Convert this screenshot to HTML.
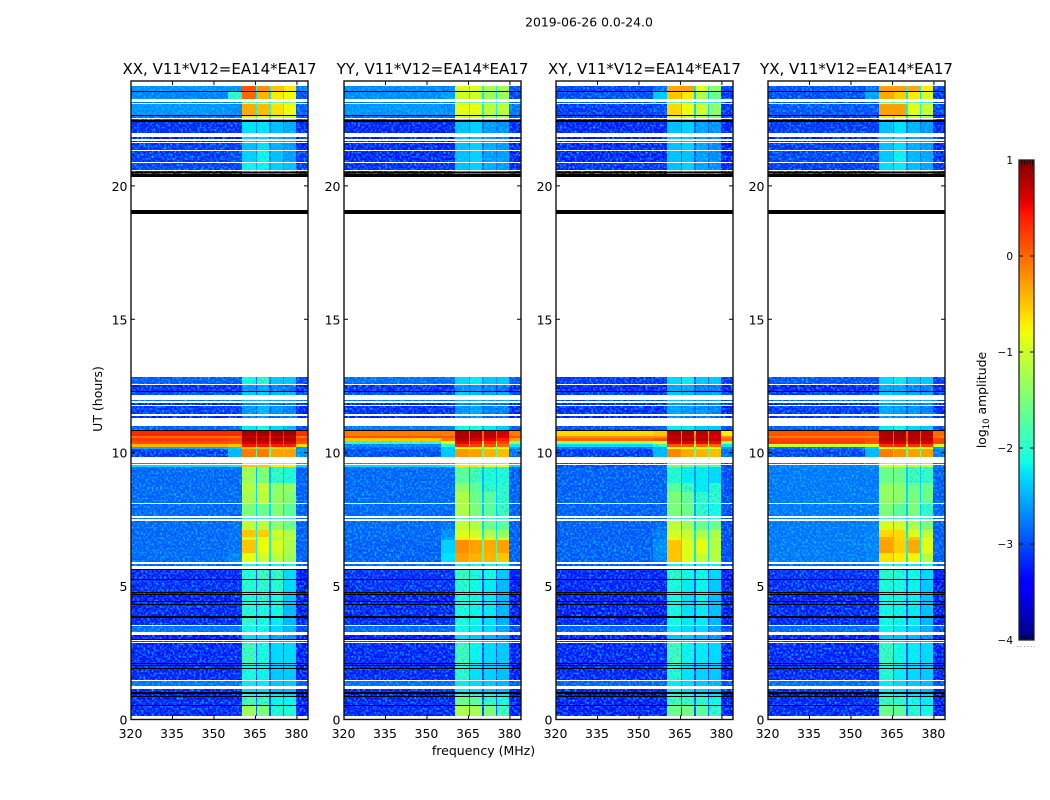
<!DOCTYPE html>
<html>
<head>
<meta charset="utf-8">
<title>2019-06-26 0.0-24.0</title>
<style>
html,body{margin:0;padding:0;background:#fff;width:1050px;height:800px;overflow:hidden}
svg{display:block}
text{font-family:"DejaVu Sans","Liberation Sans",sans-serif;fill:#000}
</style>
</head>
<body>
<svg id="chart" xmlns="http://www.w3.org/2000/svg" width="1050" height="800" viewBox="0 0 1050 800">
  <defs>
    <!-- decorative grain only: cell colours still come from the value arrays below -->
    <filter id="speckle" filterUnits="userSpaceOnUse" x="0" y="0" width="1050" height="800" color-interpolation-filters="sRGB">
      <feTurbulence type="fractalNoise" baseFrequency="0.48" numOctaves="1" seed="7" result="grain"/>
      <feColorMatrix in="grain" type="matrix" values="0 0 0 0 0  0 0 0 0 0.85  0 0 0 0 1  2.6 0 0 0 -1.15" result="tinted"/>
      <feComposite in="tinted" in2="SourceAlpha" operator="in" result="clipped"/>
      <feMerge>
        <feMergeNode in="SourceGraphic"/>
        <feMergeNode in="clipped"/>
      </feMerge>
    </filter>
  </defs>
  <rect x="0" y="0" width="1050" height="800" fill="#fff"/>
  <text x="589" y="26.5" font-size="12.4" text-anchor="middle">2019-06-26 0.0-24.0</text>
  <text x="483.5" y="755" font-size="12.5" text-anchor="middle">frequency (MHz)</text>
  <text x="0" y="0" font-size="12.5" text-anchor="middle" transform="translate(102,399) rotate(-90)">UT (hours)</text>
  <text x="0" y="0" font-size="12.4" text-anchor="middle" transform="translate(986,400) rotate(-90)">log<tspan font-size="8.5" dy="3">10</tspan><tspan dy="-3"> amplitude</tspan></text>
  <g id="panels"></g>
  <g id="colorbar"></g>
</svg>
<script>
// ---- chart data -------------------------------------------------------
const panelTitles = ['XX, V11*V12=EA14*EA17','YY, V11*V12=EA14*EA17','XY, V11*V12=EA14*EA17','YX, V11*V12=EA14*EA17'];
const xTicks = [320,335,350,365,380];
const yTicks = [0,5,10,15,20];
const colorTicks = [1,0,-1,-2,-3,-4];
const colorMinorTicks = [-3.98,-3.95,-3.92,-3.89,-3.86,0.86,0.89,0.92,0.95,0.98];
// frequency edges in MHz of the heatmap columns
const freqEdges = [320,355,360.3,365.2,365.7,370,370.5,374.8,375.4,379.6,384];
// which value of a row each column reads: left, ramp, s1, gap, s2, gap, s3, gap, s4, right
const columnSource = [0,1,2,6,3,6,4,6,5,7];
// UT (hours) start/end of each observed band, top to bottom
const bandTop = [23.76,23.54,23.16,23.05,22.64,22.51,22.38,21.83,21.70,21.59,21.31,20.86,20.57,12.84,12.54,12.26,11.96,11.88,11.75,11.39,11.00,10.81,10.63,10.55,10.44,10.33,10.21,10.14,9.61,9.54,9.45,8.86,8.53,8.08,7.55,7.44,7.10,6.84,6.73,6.24,5.81,5.62,5.23,4.78,4.37,3.82,3.50,3.17,2.96,2.87,2.12,1.44,1.14,1.03,0.88,0.51];
const bandBottom = [23.54,23.25,23.11,22.66,22.55,22.46,21.98,21.74,21.63,21.35,20.91,20.60,20.45,12.58,12.31,12.18,11.92,11.79,11.44,11.30,10.85,10.63,10.55,10.44,10.33,10.21,10.14,9.84,9.58,9.48,8.86,8.53,8.11,7.63,7.50,7.10,6.84,6.73,6.24,5.90,5.77,5.25,4.78,4.37,3.88,3.54,3.28,3.02,2.90,2.12,1.48,1.26,1.03,0.88,0.54,0.13];
// flagged (black) time ranges, UT hours [top, bottom]
const flaggedRanges = [[23.56,23.53],[22.66,22.63],[22.46,22.38],[20.51,20.48],[20.45,20.35],[19.09,18.96],[12.31,12.26],[10.85,10.81],[5.64,5.61],[5.26,5.23],[4.79,4.76],[4.71,4.68],[4.45,4.42],[4.34,4.31],[3.89,3.86],[3.83,3.80],[3.03,3.00],[2.10,2.07],[2.04,2.01],[1.93,1.90],[1.04,1.01],[0.98,0.95],[0.89,0.86],[0.54,0.51]];
// log10 amplitude per band: left, ramp, s1, s2, s3, s4, gap, right
const xxValues = [
[-2.7,-2.7,0.1,-0.2,-0.5,-0.7,-2.0,-2.85],[-2.8,-1.9,0.0,-0.4,-0.7,-0.8,-2.2,-3.05],[-2.9,-2.9,-1.6,-1.6,-1.6,-1.6,-2.3,-3.05],[-2.7,-2.75,-0.35,-0.45,-0.65,-0.8,-1.9,-3.0],[-2.95,-2.95,-0.7,-0.8,-1.0,-1.0,-2.0,-3.05],[-3.1,-3.1,-1.8,-1.8,-2.0,-2.0,-2.6,-3.1],
[-3.25,-3.25,-2.25,-2.25,-2.45,-2.55,-2.8,-3.3],[-3.35,-3.35,-2.35,-2.35,-2.55,-2.65,-2.9,-3.35],[-3.35,-3.35,-2.35,-2.35,-2.55,-2.65,-2.9,-3.35],[-3.2,-3.2,-2.45,-2.25,-2.55,-2.65,-2.8,-3.3],[-3.2,-3.1,-2.35,-2.15,-2.45,-2.65,-2.8,-3.2],[-3.15,-3.15,-2.15,-2.15,-2.35,-2.45,-2.7,-3.2],[-3.4,-3.4,-2.8,-2.7,-2.9,-2.9,-3.1,-3.4],
[-3.0,-3.0,-2.1,-1.9,-2.4,-2.4,-2.8,-3.1],[-3.25,-3.25,-2.7,-2.6,-2.8,-2.9,-3.1,-3.3],[-3.1,-3.1,-2.4,-2.4,-2.5,-2.5,-2.9,-3.1],[-2.9,-2.9,-2.5,-2.5,-2.6,-2.6,-2.8,-2.9],[-3.3,-3.3,-2.8,-2.7,-2.9,-2.9,-3.1,-3.3],[-3.2,-3.2,-2.7,-2.5,-2.7,-2.8,-3.0,-3.3],[-3.3,-3.3,-2.8,-2.7,-2.9,-2.9,-3.1,-3.3],
[-3.0,-2.9,-2.2,-2.0,-2.3,-2.5,-2.7,-3.1],[0.35,0.35,0.85,0.85,0.85,0.85,0.4,0.3],[-0.05,-0.1,0.7,0.7,0.7,0.7,0.2,-0.1],[0.25,0.2,0.8,0.8,0.8,0.8,0.3,0.2],[0.15,0.1,0.65,0.65,0.65,0.65,0.1,0.1],[-0.4,-0.5,0.45,0.45,0.4,0.4,-0.3,-0.6],[-2.6,-2.4,-0.5,-0.5,-0.6,-0.6,-1.8,-2.7],[-3.2,-2.5,-0.1,-0.1,-0.3,-0.3,-1.7,-2.7],
[-2.7,-2.6,-1.2,-1.2,-1.4,-1.4,-2.0,-2.7],[-2.3,-2.2,-0.5,-0.5,-0.7,-0.7,-1.6,-2.3],
[-2.95,-2.95,-1.3,-1.5,-1.9,-2.0,-2.5,-3.0],[-2.95,-2.95,-1.15,-1.05,-1.4,-1.35,-2.3,-3.0],[-2.95,-2.95,-1.25,-1.1,-1.35,-1.45,-2.3,-3.0],[-2.95,-2.95,-1.5,-1.6,-1.45,-1.7,-2.3,-3.0],[-2.9,-2.9,-1.8,-1.8,-1.8,-2.0,-2.4,-2.95],
[-2.95,-2.9,-1.1,-1.1,-1.4,-1.6,-2.2,-3.0],[-2.95,-2.9,-0.5,-0.55,-1.0,-1.2,-2.1,-3.0],[-2.95,-2.9,-1.0,-0.9,-1.2,-1.1,-2.1,-3.0],[-2.95,-2.9,-0.5,-0.8,-0.95,-1.2,-2.1,-3.0],[-2.95,-2.8,-0.85,-1.0,-1.1,-1.3,-2.2,-3.0],[-2.95,-2.95,-2.0,-2.0,-2.1,-2.1,-2.7,-3.0],
[-3.3,-3.3,-1.95,-1.8,-1.9,-2.3,-3.1,-3.35],[-3.25,-3.25,-1.95,-1.9,-1.95,-2.3,-3.0,-3.35],[-3.35,-3.35,-2.0,-1.95,-2.05,-2.4,-3.1,-3.35],[-3.3,-3.3,-1.95,-2.05,-2.1,-2.5,-3.1,-3.35],[-3.3,-3.3,-1.9,-2.05,-2.2,-2.5,-3.1,-3.35],[-2.9,-2.9,-2.1,-2.1,-2.3,-2.5,-2.8,-3.1],[-3.35,-3.35,-2.3,-2.3,-2.6,-2.7,-3.1,-3.35],[-3.2,-3.2,-2.3,-2.3,-2.5,-2.6,-3.0,-3.2],
[-3.3,-3.3,-1.8,-2.05,-2.3,-2.3,-3.1,-3.35],[-3.3,-3.3,-2.05,-2.15,-2.4,-2.4,-3.15,-3.35],[-2.85,-2.85,-2.2,-2.2,-2.4,-2.4,-2.8,-3.0],[-3.3,-3.3,-2.3,-2.3,-2.5,-2.5,-3.1,-3.35],[-3.45,-3.45,-1.95,-2.05,-2.2,-2.3,-3.25,-3.5],[-3.3,-3.3,-1.75,-1.85,-2.15,-2.15,-3.05,-3.35],[-3.3,-3.3,-1.3,-1.5,-2.0,-2.0,-3.05,-3.35]];
const yyValues = [
[-2.75,-2.8,-0.9,-0.9,-1.2,-1.25,-2.0,-3.05],[-2.75,-2.65,-1.0,-1.0,-1.3,-1.3,-2.2,-3.15],[-2.9,-2.9,-1.6,-1.6,-1.7,-1.7,-2.4,-3.05],[-2.7,-2.75,-0.85,-0.85,-1.1,-1.1,-2.1,-2.85],[-2.95,-2.95,-1.0,-1.0,-1.2,-1.2,-2.2,-3.05],[-3.1,-3.1,-1.9,-1.9,-2.0,-2.0,-2.6,-3.1],
[-3.3,-3.3,-2.45,-2.35,-2.65,-2.7,-2.9,-3.3],[-3.35,-3.35,-2.45,-2.45,-2.65,-2.75,-3.0,-3.35],[-3.35,-3.35,-2.45,-2.45,-2.65,-2.75,-3.0,-3.35],[-3.3,-3.3,-2.45,-2.35,-2.55,-2.65,-2.9,-3.3],[-3.3,-3.3,-2.45,-2.35,-2.65,-2.65,-2.9,-3.3],[-3.25,-3.25,-2.45,-2.35,-2.55,-2.65,-2.9,-3.3],[-3.4,-3.4,-2.8,-2.7,-2.9,-2.9,-3.1,-3.4],
[-2.9,-2.9,-2.3,-2.2,-2.4,-2.4,-2.7,-3.0],[-3.25,-3.25,-2.7,-2.7,-2.8,-2.9,-3.1,-3.3],[-3.1,-3.1,-2.4,-2.5,-2.6,-2.6,-2.9,-3.1],[-2.85,-2.85,-2.5,-2.5,-2.6,-2.6,-2.8,-2.9],[-3.3,-3.3,-2.8,-2.7,-2.9,-2.9,-3.1,-3.3],[-3.25,-3.25,-2.7,-2.6,-2.8,-2.8,-3.0,-3.3],[-3.3,-3.3,-2.8,-2.7,-2.9,-2.9,-3.1,-3.3],
[-2.85,-2.8,-2.1,-2.0,-2.2,-2.4,-2.6,-3.0],[-0.1,-0.1,0.8,0.8,0.75,0.65,0.0,-0.1],[0.1,0.1,0.85,0.8,0.75,0.6,0.1,0.1],[-0.5,-0.1,0.75,0.65,0.55,0.4,0.0,-0.3],[-1.8,-0.8,0.55,0.45,0.35,0.2,-0.8,-1.4],[-2.8,-1.9,0.3,0.2,0.1,0.0,-1.3,-2.2],[-3.0,-2.4,-0.8,-0.8,-0.9,-0.9,-1.8,-2.7],[-3.1,-2.4,-0.25,-0.3,-0.4,-0.45,-1.7,-2.9],
[-2.7,-2.6,-1.4,-1.4,-1.5,-1.5,-2.1,-2.7],[-2.3,-2.2,-0.7,-0.7,-0.8,-0.8,-1.7,-2.3],
[-2.95,-2.95,-1.7,-1.8,-2.0,-2.0,-2.5,-3.0],[-2.95,-2.95,-1.4,-1.7,-1.9,-1.9,-2.5,-3.0],[-2.95,-2.95,-1.2,-1.6,-1.7,-1.9,-2.4,-3.0],[-2.95,-2.95,-1.2,-1.5,-1.7,-1.8,-2.4,-3.0],[-2.9,-2.9,-1.7,-1.8,-1.9,-2.0,-2.5,-2.95],
[-2.95,-2.9,-1.1,-1.2,-1.6,-1.7,-2.3,-3.0],[-2.95,-2.75,-0.9,-1.0,-1.2,-1.35,-2.2,-3.0],[-2.95,-2.65,-0.7,-0.8,-0.9,-1.0,-2.0,-3.0],[-3.0,-2.35,-0.2,-0.3,-0.35,-0.3,-1.7,-3.0],[-3.0,-2.25,-0.3,-0.4,-0.4,-0.5,-1.7,-3.0],[-2.95,-2.95,-2.0,-2.0,-2.1,-2.1,-2.7,-3.0],
[-3.25,-3.25,-1.85,-2.05,-2.1,-2.4,-3.1,-3.35],[-3.25,-3.25,-1.95,-2.1,-2.2,-2.5,-3.1,-3.35],[-3.35,-3.35,-2.0,-2.1,-2.2,-2.5,-3.1,-3.35],[-3.3,-3.3,-2.05,-2.15,-2.2,-2.5,-3.1,-3.35],[-3.3,-3.3,-2.0,-2.15,-2.25,-2.55,-3.1,-3.35],[-2.95,-2.95,-2.1,-2.2,-2.3,-2.6,-2.9,-3.1],[-3.35,-3.35,-2.3,-2.4,-2.5,-2.7,-3.1,-3.35],[-3.2,-3.2,-2.3,-2.3,-2.5,-2.6,-3.0,-3.2],
[-3.3,-3.3,-1.8,-2.15,-2.3,-2.4,-3.1,-3.35],[-3.3,-3.3,-1.95,-2.25,-2.35,-2.45,-3.15,-3.35],[-2.9,-2.9,-2.2,-2.3,-2.4,-2.5,-2.8,-3.0],[-3.3,-3.3,-2.2,-2.3,-2.4,-2.5,-3.1,-3.35],[-3.55,-3.55,-1.75,-1.95,-2.05,-2.2,-3.25,-3.55],[-3.3,-3.3,-1.6,-1.7,-1.9,-2.05,-3.05,-3.35],[-3.3,-3.3,-1.2,-1.25,-1.5,-1.75,-3.05,-3.35]];
const xyValues = [
[-3.15,-2.9,-0.35,-0.3,-0.85,-1.4,-2.2,-3.15],[-3.1,-2.4,-0.5,-0.7,-1.2,-1.6,-2.4,-3.25],[-3.1,-3.1,-1.7,-1.7,-1.9,-2.0,-2.5,-3.25],[-3.2,-3.1,-0.6,-0.8,-1.0,-1.4,-2.3,-3.25],[-3.2,-3.2,-0.9,-1.0,-1.2,-1.5,-2.4,-3.25],[-3.25,-3.25,-1.9,-1.9,-2.1,-2.2,-2.7,-3.25],
[-3.3,-3.3,-2.45,-2.35,-2.6,-2.7,-3.0,-3.3],[-3.35,-3.35,-2.45,-2.45,-2.65,-2.75,-3.0,-3.35],[-3.35,-3.35,-2.45,-2.45,-2.65,-2.75,-3.0,-3.35],[-3.3,-3.3,-2.45,-2.35,-2.6,-2.75,-3.0,-3.35],[-3.3,-3.3,-2.45,-2.45,-2.65,-2.75,-3.0,-3.35],[-3.25,-3.25,-2.45,-2.35,-2.6,-2.75,-3.0,-3.3],[-3.4,-3.4,-2.8,-2.7,-2.9,-2.9,-3.1,-3.4],
[-3.2,-3.2,-2.3,-2.2,-2.4,-2.4,-2.9,-3.2],[-3.3,-3.3,-2.6,-2.6,-2.8,-2.8,-3.1,-3.3],[-3.2,-3.2,-2.4,-2.5,-2.6,-2.6,-2.9,-3.2],[-3.1,-3.1,-2.4,-2.5,-2.6,-2.6,-2.9,-3.1],[-3.3,-3.3,-2.7,-2.7,-2.8,-2.8,-3.1,-3.3],[-3.25,-3.25,-2.6,-2.7,-2.7,-2.8,-3.0,-3.3],[-3.3,-3.3,-2.7,-2.8,-2.8,-2.9,-3.1,-3.3],
[-3.1,-3.0,-2.2,-2.2,-2.4,-2.4,-2.7,-3.1],[-0.6,-0.5,0.8,0.8,0.75,0.7,-0.3,-0.7],[-0.2,-0.2,0.7,0.7,0.7,0.6,-0.1,-0.2],[0.0,0.1,0.75,0.8,0.75,0.7,0.0,0.0],[-1.3,-0.8,0.6,0.6,0.55,0.5,-0.7,-1.2],[-2.3,-1.8,0.1,0.1,0.0,0.0,-1.0,-2.2],[-3.0,-2.5,-0.8,-0.8,-0.9,-0.9,-1.8,-2.7],[-3.2,-2.5,-0.15,-0.35,-0.4,-0.45,-1.6,-2.9],
[-3.1,-3.0,-1.5,-1.5,-1.6,-1.6,-2.2,-3.1],[-3.1,-3.0,-1.5,-1.5,-1.7,-1.7,-2.3,-3.1],
[-3.0,-3.0,-2.0,-2.2,-2.2,-2.3,-2.7,-3.1],[-3.0,-3.0,-1.7,-1.8,-2.2,-2.0,-2.7,-3.1],[-3.0,-3.0,-1.5,-1.65,-1.9,-1.9,-2.6,-3.1],[-3.0,-3.0,-1.5,-1.6,-1.9,-2.1,-2.6,-3.1],[-3.0,-3.0,-1.8,-1.9,-2.0,-2.1,-2.7,-3.1],
[-3.0,-2.95,-1.1,-1.3,-1.6,-1.6,-2.4,-3.1],[-3.0,-2.85,-1.0,-1.05,-1.2,-1.2,-2.2,-3.1],[-3.0,-2.85,-0.75,-1.0,-1.0,-1.1,-2.2,-3.1],[-3.0,-2.75,-0.5,-0.9,-0.85,-1.15,-2.2,-3.1],[-3.0,-2.8,-0.5,-0.9,-1.05,-1.15,-2.2,-3.1],[-3.05,-3.05,-2.0,-2.0,-2.1,-2.1,-2.8,-3.1],
[-3.3,-3.3,-1.95,-2.1,-2.1,-2.3,-3.15,-3.35],[-3.3,-3.3,-2.05,-2.2,-2.15,-2.4,-3.15,-3.35],[-3.35,-3.35,-2.1,-2.25,-2.15,-2.45,-3.15,-3.35],[-3.35,-3.35,-2.1,-2.25,-2.2,-2.45,-3.15,-3.4],[-3.3,-3.3,-2.1,-2.2,-2.2,-2.5,-3.15,-3.35],[-3.0,-3.0,-2.2,-2.3,-2.3,-2.6,-2.9,-3.1],[-3.35,-3.35,-2.4,-2.4,-2.5,-2.7,-3.1,-3.35],[-3.25,-3.25,-2.4,-2.4,-2.5,-2.6,-3.0,-3.25],
[-3.3,-3.3,-1.8,-2.15,-2.2,-2.3,-3.05,-3.35],[-3.3,-3.3,-2.0,-2.25,-2.35,-2.4,-3.15,-3.35],[-2.95,-2.95,-2.2,-2.3,-2.4,-2.5,-2.9,-3.1],[-3.35,-3.35,-2.2,-2.3,-2.4,-2.5,-3.15,-3.35],[-3.85,-3.85,-1.95,-2.05,-2.15,-2.25,-3.35,-3.85],[-3.35,-3.35,-1.8,-1.85,-1.95,-2.1,-3.05,-3.35],[-3.35,-3.35,-1.6,-1.55,-1.7,-1.9,-3.05,-3.35]];
const yxValues = [
[-3.05,-2.9,-0.3,-0.3,-0.35,-0.7,-2.1,-3.15],[-3.1,-2.6,-0.35,-0.55,-0.7,-0.95,-2.2,-3.25],[-3.1,-3.1,-1.6,-1.6,-1.7,-1.9,-2.4,-3.25],[-3.05,-3.05,-0.3,-0.3,-0.85,-1.05,-2.1,-3.15],[-3.2,-3.2,-0.7,-0.7,-1.0,-1.2,-2.3,-3.25],[-3.25,-3.25,-1.8,-1.8,-2.0,-2.1,-2.7,-3.25],
[-3.2,-3.2,-2.45,-2.25,-2.5,-2.65,-2.9,-3.3],[-3.3,-3.3,-2.45,-2.35,-2.6,-2.7,-3.0,-3.3],[-3.3,-3.3,-2.45,-2.35,-2.6,-2.7,-3.0,-3.3],[-3.2,-3.2,-2.45,-2.25,-2.55,-2.65,-2.9,-3.3],[-3.15,-3.15,-2.4,-2.15,-2.5,-2.6,-2.9,-3.25],[-3.2,-3.2,-2.25,-2.2,-2.45,-2.6,-2.9,-3.25],[-3.4,-3.4,-2.8,-2.7,-2.9,-2.9,-3.1,-3.4],
[-3.05,-3.05,-2.3,-2.2,-2.4,-2.4,-2.8,-3.15],[-3.3,-3.3,-2.6,-2.6,-2.8,-2.8,-3.1,-3.3],[-3.2,-3.2,-2.4,-2.5,-2.6,-2.6,-2.9,-3.2],[-3.0,-3.0,-2.4,-2.5,-2.6,-2.6,-2.9,-3.1],[-3.3,-3.3,-2.7,-2.7,-2.8,-2.8,-3.1,-3.3],[-3.2,-3.2,-2.6,-2.65,-2.7,-2.8,-3.0,-3.3],[-3.25,-3.25,-2.7,-2.7,-2.8,-2.9,-3.1,-3.3],
[-3.0,-2.95,-2.2,-2.1,-2.3,-2.4,-2.7,-3.1],[0.1,0.05,0.8,0.85,0.8,0.75,0.1,0.0],[-0.1,-0.1,0.75,0.8,0.75,0.7,0.0,-0.1],[0.2,0.15,0.8,0.8,0.8,0.75,0.2,0.2],[0.25,0.1,0.65,0.65,0.7,0.6,-0.1,0.2],[-1.0,-0.9,0.3,0.35,0.3,0.25,-0.7,-1.0],[-2.9,-2.4,-0.8,-0.8,-0.9,-0.9,-1.8,-2.7],[-3.15,-2.5,-0.1,-0.2,-0.3,-0.3,-1.6,-2.8],
[-2.9,-2.8,-1.4,-1.4,-1.5,-1.5,-2.1,-2.9],[-2.8,-2.7,-0.9,-0.9,-1.1,-1.1,-1.9,-2.9],
[-2.85,-2.85,-1.6,-1.6,-1.8,-1.9,-2.4,-3.0],[-2.85,-2.85,-1.35,-1.4,-1.6,-1.6,-2.3,-3.0],[-2.85,-2.85,-1.35,-1.4,-1.5,-1.6,-2.3,-3.0],[-2.85,-2.85,-1.5,-1.7,-1.5,-1.9,-2.4,-3.0],[-2.85,-2.85,-1.8,-1.8,-1.9,-2.0,-2.5,-3.0],
[-2.85,-2.8,-0.95,-1.0,-1.2,-1.5,-2.3,-3.0],[-2.85,-2.8,-0.6,-0.6,-0.9,-1.1,-2.2,-3.0],[-2.85,-2.8,-0.35,-0.6,-0.5,-0.9,-2.1,-3.0],[-2.85,-2.8,-0.3,-0.55,-0.35,-0.9,-2.1,-3.0],[-2.85,-2.8,-0.65,-0.7,-0.75,-1.15,-2.2,-3.0],[-2.95,-2.95,-2.0,-2.0,-2.1,-2.1,-2.7,-3.0],
[-3.25,-3.25,-1.95,-2.0,-2.1,-2.3,-3.1,-3.35],[-3.25,-3.25,-2.05,-2.05,-2.15,-2.4,-3.1,-3.35],[-3.35,-3.35,-2.1,-2.1,-2.15,-2.45,-3.1,-3.35],[-3.3,-3.3,-2.1,-2.15,-2.2,-2.45,-3.1,-3.35],[-3.3,-3.3,-2.1,-2.15,-2.2,-2.5,-3.1,-3.35],[-2.95,-2.95,-2.15,-2.2,-2.3,-2.55,-2.9,-3.1],[-3.35,-3.35,-2.4,-2.4,-2.5,-2.7,-3.1,-3.35],[-3.2,-3.2,-2.3,-2.4,-2.5,-2.6,-3.0,-3.2],
[-3.3,-3.3,-1.85,-2.1,-2.2,-2.3,-3.05,-3.35],[-3.3,-3.3,-2.0,-2.2,-2.3,-2.4,-3.15,-3.35],[-2.9,-2.9,-2.2,-2.3,-2.4,-2.5,-2.85,-3.05],[-3.3,-3.3,-2.2,-2.3,-2.4,-2.5,-3.1,-3.35],[-3.85,-3.85,-2.05,-2.15,-2.25,-2.35,-3.35,-3.85],[-3.3,-3.3,-1.85,-1.9,-2.1,-2.2,-3.05,-3.35],[-3.3,-3.3,-1.6,-1.7,-1.95,-2.05,-3.05,-3.35]];
const panelValues = [xxValues, yyValues, xyValues, yxValues];

// ---- layout and scales ------------------------------------------------
const SVGNS = 'http://www.w3.org/2000/svg';
const panelLefts = [131,344,556,768];
const plotWidth = 177, plotTop = 81, plotBottom = 719.5;
const xMin = 320, xMax = 384, yMax = 23.93;
const colorMin = -4, colorMax = 1;
const cbLeft = 1019, cbRight = 1034, cbTop = 160, cbBottom = 640;
const speckleBelow = -1.7;

function xScale(panelIndex, mhz){ return panelLefts[panelIndex] + (mhz - xMin) / (xMax - xMin) * plotWidth; }
function yScale(ut){ return plotBottom - ut / yMax * (plotBottom - plotTop); }
function cScale(v){ return cbBottom - (v - colorMin) / (colorMax - colorMin) * (cbBottom - cbTop); }
function ramp(t, pts){
  for (let i = 1; i < pts.length; i++) {
    if (t <= pts[i][0]) {
      const a = pts[i-1], b = pts[i];
      return a[1] + (b[1]-a[1]) * (t-a[0]) / (b[0]-a[0]);
    }
  }
  return pts[pts.length-1][1];
}
function jet(v){
  const t = Math.max(0, Math.min(1, (v - colorMin) / (colorMax - colorMin)));
  const r = ramp(t, [[0,0],[0.35,0],[0.66,1],[0.89,1],[1,0.5]]);
  const g = ramp(t, [[0,0],[0.125,0],[0.375,1],[0.64,1],[0.91,0],[1,0]]);
  const b = ramp(t, [[0,0.5],[0.11,1],[0.34,1],[0.65,0],[1,0]]);
  return 'rgb(' + Math.round(r*255) + ',' + Math.round(g*255) + ',' + Math.round(b*255) + ')';
}
function make(tag, attrs, parent){
  const el = document.createElementNS(SVGNS, tag);
  for (const k in attrs) el.setAttribute(k, attrs[k]);
  parent.appendChild(el);
  return el;
}

// ---- panels -----------------------------------------------------------
const panelsGroup = document.getElementById('panels');
panelTitles.forEach(function(title, p){
  const g = make('g', {}, panelsGroup);
  
  
  const left = panelLefts[p], right = left + plotWidth;

  const quietCells = make('g', {filter:'url(#speckle)'}, g);
  
  
  const brightCells = make('g', {}, g);
  
  

  const rows = panelValues[p];
  rows.forEach(function(row, r){
    const yT = Math.round(yScale(bandTop[r]));
    const yB = Math.round(yScale(bandBottom[r]));
    columnSource.forEach(function(src, c){
      const x0 = Math.round(xScale(p, freqEdges[c]));
      const x1 = Math.round(xScale(p, freqEdges[c+1]));
      const parent = row[src] < speckleBelow ? quietCells : brightCells;
      const cell = make('rect', {x:x0, y:yT, width:x1-x0, height:Math.max(1,yB-yT), fill:jet(row[src]), 'shape-rendering':'crispEdges'}, parent);
      
      
    });
  });

  flaggedRanges.forEach(function(range){
    const yT = Math.round(yScale(range[0]));
    const yB = Math.round(yScale(range[1]));
    const line = make('rect', {x:left, y:yT, width:plotWidth, height:Math.max(1,yB-yT), fill:'#000', 'shape-rendering':'crispEdges'}, g);
    
    
  });

  xTicks.forEach(function(tick){
    const x = xScale(p, tick);
    const bottomTick = make('line', {x1:x, x2:x, y1:plotBottom, y2:plotBottom-4, stroke:'#000', 'stroke-width':1}, g);
    
    
    const topTick = make('line', {x1:x, x2:x, y1:plotTop, y2:plotTop+4, stroke:'#000', 'stroke-width':1}, g);
    
    
    const label = make('text', {x:x-0.5, y:738, 'font-size':12.5, 'text-anchor':'middle'}, g);
    label.textContent = tick;
    
    
  });

  yTicks.forEach(function(tick){
    const y = yScale(tick);
    const leftTick = make('line', {x1:left, x2:left+4, y1:y, y2:y, stroke:'#000', 'stroke-width':1}, g);
    
    
    const rightTick = make('line', {x1:right, x2:right-4, y1:y, y2:y, stroke:'#000', 'stroke-width':1}, g);
    
    
    const label = make('text', {x:left-3.5, y:y+5, 'font-size':12.5, 'text-anchor':'end'}, g);
    label.textContent = tick;
    
    
  });

  const frame = make('rect', {x:left, y:plotTop, width:plotWidth, height:plotBottom-plotTop, fill:'none', stroke:'#111', 'stroke-width':1.4}, g);
  
  

  const titleEl = make('text', {x:left+plotWidth/2, y:74, 'font-size':15, 'text-anchor':'middle'}, g);
  titleEl.textContent = title;
  
  
});

// ---- colorbar ---------------------------------------------------------
const colorbarGroup = document.getElementById('colorbar');
for (let y = cbTop; y < cbBottom; y++) {
  const v = colorMax - (y + 0.5 - cbTop) / (cbBottom - cbTop) * (colorMax - colorMin);
  const strip = make('rect', {x:cbLeft, y:y, width:cbRight-cbLeft, height:1, fill:jet(v), 'shape-rendering':'crispEdges'}, colorbarGroup);
  
  
}
colorTicks.forEach(function(tick){
  const y = cScale(tick);
  const t1 = make('line', {x1:cbLeft, x2:cbLeft+4, y1:y, y2:y, stroke:'#000', 'stroke-width':1}, colorbarGroup);
  
  
  const t2 = make('line', {x1:cbRight, x2:cbRight-4, y1:y, y2:y, stroke:'#000', 'stroke-width':1}, colorbarGroup);
  
  
  const label = make('text', {x:cbLeft-6, y:y+4, 'font-size':10.5, 'text-anchor':'end'}, colorbarGroup);
  label.textContent = String(tick).replace('-', '\u2212');
  
  
});
colorMinorTicks.forEach(function(tick, i){
  const y = tick < 0 ? cbBottom : cbTop;
  const x = cbLeft + 3 + (i % 5) * 2.6;
  const m = make('line', {x1:x, x2:x, y1:y, y2: tick < 0 ? y-5 : y+5, stroke:'#000', 'stroke-width':0.8}, colorbarGroup);
  
  
});
const cbFrame = make('rect', {x:cbLeft, y:cbTop, width:cbRight-cbLeft, height:cbBottom-cbTop, fill:'none', stroke:'#222', 'stroke-width':1.3}, colorbarGroup);


const cbDots = make('line', {x1:1017, x2:1035, y1:646.5, y2:646.5, stroke:'#999', 'stroke-width':1, 'stroke-dasharray':'1 2.5'}, colorbarGroup);


</script>
</body>
</html>
